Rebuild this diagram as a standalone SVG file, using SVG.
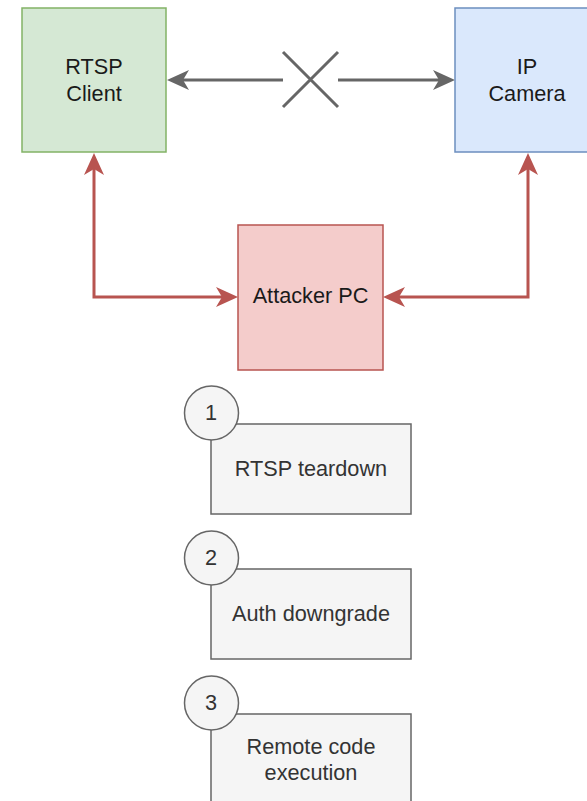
<svg xmlns="http://www.w3.org/2000/svg" width="587" height="801" viewBox="0 0 587 801">
  <style>
    text { font-family: "Liberation Sans", Arial, sans-serif; font-size: 21.7px; text-anchor: middle; }
    .node text { fill: #1a1a1a; }
    .step rect, .step circle { fill: #f5f5f5; stroke: #666666; stroke-width: 1.5; }
    .step text { fill: #333333; }
    .gray { fill: none; stroke: #666666; stroke-width: 3; }
    .red { fill: none; stroke: #b85450; stroke-width: 3; }
  </style>
  <defs>
    <marker id="arrowGray" markerUnits="userSpaceOnUse" markerWidth="22" markerHeight="22" viewBox="0 0 22 22" refX="16" refY="11" orient="auto-start-reverse">
      <path d="M22,11 L0,1 L6,11 L0,21 Z" fill="#666666"/>
    </marker>
    <marker id="arrowRed" markerUnits="userSpaceOnUse" markerWidth="22" markerHeight="22" viewBox="0 0 22 22" refX="16" refY="11" orient="auto-start-reverse">
      <path d="M22,11 L0,1 L6,11 L0,21 Z" fill="#b85450"/>
    </marker>
  </defs>

  <rect width="587" height="801" fill="#ffffff"/>

  <!-- connectors -->
  <g id="connectors">
    <path class="gray" d="M283,80 L173,80" marker-end="url(#arrowGray)"/>
    <path class="gray" d="M338,80 L449,80" marker-end="url(#arrowGray)"/>
    <path class="gray" d="M283,52 L338,107 M283,107 L338,52" stroke-width="2.5"/>
    <path class="red" d="M94,159 L94,297 L232,297" marker-start="url(#arrowRed)" marker-end="url(#arrowRed)"/>
    <path class="red" d="M528,159 L528,297 L389,297" marker-start="url(#arrowRed)" marker-end="url(#arrowRed)"/>
  </g>

  <!-- nodes -->
  <g id="rtsp-client" class="node">
    <rect x="22" y="8" width="144" height="144" fill="#d5e8d4" stroke="#82b366" stroke-width="1.5"/>
    <text x="94" y="74">RTSP</text>
    <text x="94" y="101">Client</text>
  </g>
  <g id="ip-camera" class="node">
    <rect x="455" y="8" width="144" height="144" fill="#dae8fc" stroke="#6c8ebf" stroke-width="1.5"/>
    <text x="527" y="74">IP</text>
    <text x="527" y="101">Camera</text>
  </g>
  <g id="attacker-pc" class="node">
    <rect x="238" y="225" width="145" height="145" fill="#f4cccb" stroke="#b85450" stroke-width="1.5"/>
    <text x="310.5" y="303">Attacker PC</text>
  </g>

  <g id="step-1" class="step">
    <rect x="211" y="424" width="200" height="90"/>
    <circle cx="211.5" cy="413" r="27"/>
    <text x="211" y="420">1</text>
    <text x="311" y="476">RTSP teardown</text>
  </g>
  <g id="step-2" class="step">
    <rect x="211" y="569" width="200" height="90"/>
    <circle cx="211.5" cy="558" r="27"/>
    <text x="211" y="565">2</text>
    <text x="311" y="621">Auth downgrade</text>
  </g>
  <g id="step-3" class="step">
    <rect x="211" y="714" width="200" height="90"/>
    <circle cx="211.5" cy="703" r="27"/>
    <text x="211" y="710">3</text>
    <text x="311" y="754">Remote code</text>
    <text x="311" y="780">execution</text>
  </g>
</svg>
